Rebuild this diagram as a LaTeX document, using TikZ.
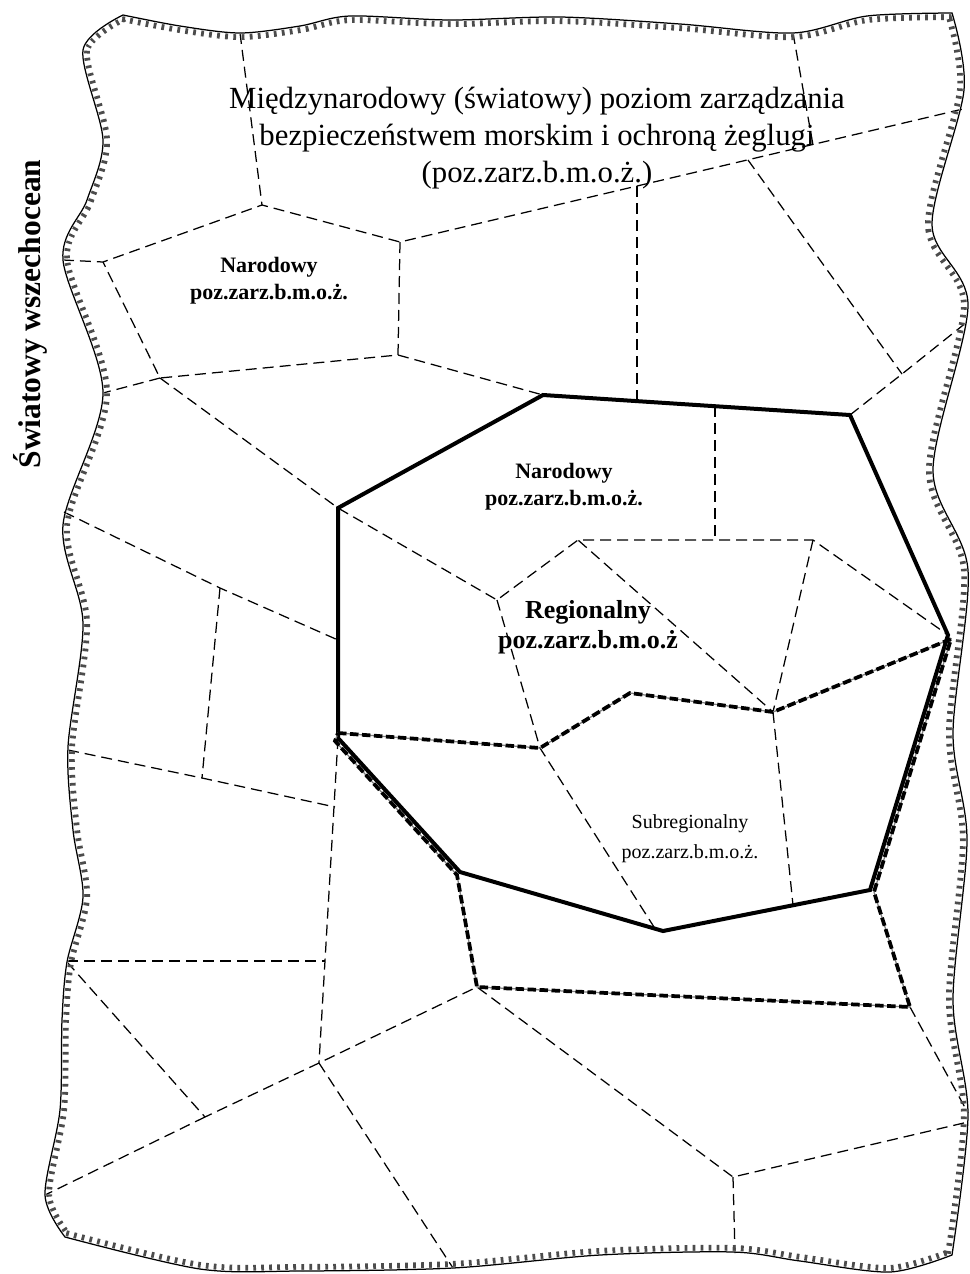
\documentclass[tikz,border=0pt]{standalone}
\usepackage{fontspec}
\setmainfont{Liberation Serif}

\newcommand{\oceanborder}{plot[smooth] coordinates {(123,15) (180,26) (240,33) (300,26) (350,16) (450,20) (560,17) (680,24) (793,33) (867,16) (952,13)}
  -- plot[smooth] coordinates {(952,13) (964,90) (932,225) (968,305) (933,470) (968,570) (953,733) (967,840) (953,1000) (968,1115) (952,1255)}
  -- plot[smooth] coordinates {(952,1255) (890,1272) (800,1261) (733,1252) (600,1255) (453,1268) (300,1271) (200,1269) (65,1237)}
  -- plot[smooth] coordinates {(65,1237) (45,1195) (60,1110) (62,1020) (67,962) (83,897) (73,830) (68,747) (83,623) (63,525) (103,393) (63,260) (87,200) (103,140) (83,50) (123,15)}
  -- cycle}

\begin{document}
\begin{tikzpicture}[x=0.4pt, y=-0.4pt]
    \tikzstyle{cell} = [draw, line width=0.5pt, dash pattern=on 4.4pt off 2.4pt]
    \tikzstyle{regional} = [draw, line width=1.6pt, line join=miter]
    \tikzstyle{subregional} = [draw, line width=1.5pt, dash pattern=on 3.4pt off 1.4pt, preaction={draw, black!50, line width=0.5pt, solid}]
    \tikzstyle{hatch} = [draw, black!70, line width=5.6pt, dash pattern=on 1.1pt off 2.1pt]
    \tikzstyle{lvlmain} = [align=center, inner sep=0pt, font=\fontsize{12.3}{14.8}\selectfont]
    \tikzstyle{lvlnat} = [align=center, inner sep=0pt, font=\bfseries\fontsize{8.8}{10.8}\selectfont]
    \tikzstyle{lvlreg} = [align=center, inner sep=0pt, font=\bfseries\fontsize{10.4}{12}\selectfont]
    \tikzstyle{lvlsub} = [align=center, inner sep=0pt, font=\fontsize{8}{12}\selectfont]

    \useasboundingbox (0,0) rectangle (969,1274);

    % junctions of the cells
    \coordinate (a) at (262,205);
    \coordinate (b) at (400,242);
    \coordinate (c) at (103,262);
    \coordinate (d) at (398,355);
    \coordinate (e) at (160,378);
    \coordinate (f) at (748,160);
    \coordinate (g) at (902,374);
    \coordinate (h) at (637,186);
    \coordinate (k) at (813,145);
    \coordinate (p) at (497,600);
    \coordinate (q) at (578,540);
    \coordinate (s) at (813,540);
    \coordinate (t) at (773,712);
    \coordinate (u) at (540,748);
    \coordinate (v) at (630,693);
    \coordinate (w) at (220,588);
    \coordinate (x1) at (202,778);
    \coordinate (y1) at (325,961);
    \coordinate (z) at (319,1063);
    \coordinate (m) at (205,1117);
    \coordinate (n) at (477,987);
    \coordinate (o) at (733,1177);
    \coordinate (sc) at (910,1007);

    % regional polygon
    \coordinate (r1) at (543,395);
    \coordinate (r2) at (850,415);
    \coordinate (r3) at (948,635);
    \coordinate (r4) at (870,890);
    \coordinate (r5) at (663,931);
    \coordinate (r6) at (460,872);
    \coordinate (r7) at (338,738);
    \coordinate (r8) at (338,508);

    \path [cell] (240,33) -- (a);
    \path [cell] (63,260) -- (c) -- (a) -- (b) -- (963,109);
    \path [cell] (793,33) -- (k);
    \path [cell] (f) -- (g);
    \path [cell] (r2) -- (g) -- (967,322);
    \path [cell] (b) -- (d) -- (e) -- (c);
    \path [cell] (e) -- (103,393);
    \path [cell] (d) -- (r1);
    \path [cell] (h) -- (637,401);
    \path [cell] (e) -- (r8) -- (p) -- (q) -- (s) -- (r3);
    \path [cell] (715,406) -- (715,540);
    \path [cell] (s) -- (t) -- (q);
    \path [cell] (p) -- (u) -- (654,927);
    \path [cell] (t) -- (793,905);
    \path [cell] (64,512) -- (w) -- (338,640);
    \path [cell] (w) -- (x1);
    \path [cell] (68,750) -- (x1) -- (335,807);
    \path [cell] (r7) -- (y1) -- (z);
    \path [cell] (67,961) -- (y1);
    \path [cell] (67,962) -- (m) -- (z) -- (n) -- (o) -- (968,1122);
    \path [cell] (m) -- (45,1195);
    \path [cell] (z) -- (453,1268);
    \path [cell] (o) -- (735,1253);
    \path [cell] (sc) -- (968,1113);

    \path [regional] (r1) -- (r2) -- (r3) -- (r4) -- (r5) -- (r6) -- (r7) -- (r8) -- cycle;
    \path [subregional] (338,733) -- (u) -- (v) -- (t) -- (951,639) -- (874,892) -- (sc) -- (n) -- (457,875) -- (335,741) -- cycle;

    % ocean edge
    \begin{scope}
        \clip \oceanborder;
        \path [hatch] \oceanborder;
        \path [draw, white, line width=0.9pt] \oceanborder;
    \end{scope}
    \draw [line width=0.5pt] \oceanborder;

    \node [lvlmain] (intl) at (537,138) {Międzynarodowy (światowy) poziom zarządzania\\bezpieczeństwem morskim i ochroną żeglugi\\(poz.zarz.b.m.o.ż.)};
    \node [lvlnat] (nat1) at (269,281) {Narodowy\\poz.zarz.b.m.o.ż.};
    \node [lvlnat] (nat2) at (564,487) {Narodowy\\poz.zarz.b.m.o.ż.};
    \node [lvlreg] (reg) at (588,627) {Regionalny\\poz.zarz.b.m.o.ż};
    \node [lvlsub] (subreg) at (690,839) {Subregionalny\\poz.zarz.b.m.o.ż.};
    \node [rotate=90, inner sep=0pt, font=\bfseries\fontsize{12.6}{15}\selectfont] (ocean) at (30,314) {Światowy wszechocean};
\end{tikzpicture}
\end{document}
